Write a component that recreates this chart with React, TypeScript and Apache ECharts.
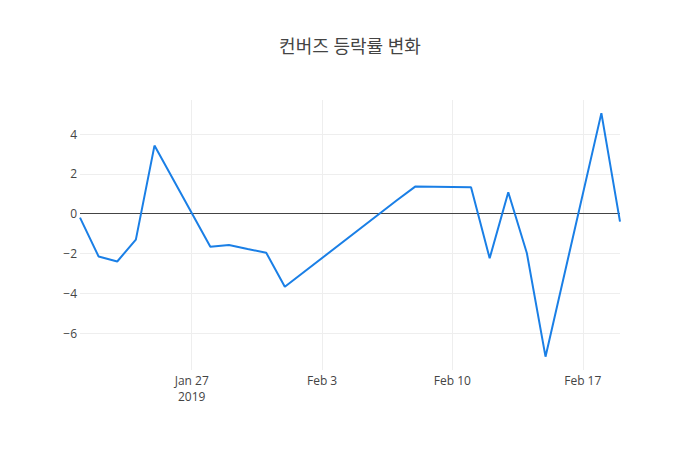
import React, { useEffect, useRef } from "react";
import * as echarts from "echarts";

const titleText = "컨버즈 등락률 변화";
const dates = [
  "2019-01-21", "2019-01-22", "2019-01-23", "2019-01-24", "2019-01-25",
  "2019-01-28", "2019-01-29", "2019-01-30", "2019-01-31", "2019-02-01",
  "2019-02-07", "2019-02-08", "2019-02-11", "2019-02-12", "2019-02-13",
  "2019-02-14", "2019-02-15", "2019-02-18", "2019-02-19",
];
const changes = [
  -0.2, -2.15, -2.4, -1.3, 3.42,
  -1.66, -1.57, -1.77, -1.96, -3.67,
  0.66, 1.36, 1.33, -2.24, 1.08,
  -1.99, -7.18, 5.05, -0.4,
];
const yTicks = [-6, -4, -2, 0, 2, 4];
const xTickDates = ["2019-01-27", "2019-02-03", "2019-02-10", "2019-02-17"];
const xTickLabels = ["Jan 27\n2019", "Feb 3", "Feb 10", "Feb 17"];
const xRange = ["2019-01-21", "2019-02-19"];
const yRange = [-7.85, 5.71];

const DAY = 86400000;
const toDay = (s: string) => {
  const [y, m, d] = s.split("-").map(Number);
  return Math.round(Date.UTC(y, m - 1, d) / DAY);
};

export default function App() {
  const ref = useRef<HTMLDivElement>(null);
  useEffect(() => {
    if (!ref.current) return;
    const chart = echarts.init(ref.current, null, { renderer: "svg" });
    const base = toDay(xRange[0]);
    const rel = (s: string) => toDay(s) - base;
    const xTickPos = xTickDates.map(rel);
    const font = "'Open Sans', 'Noto Sans CJK KR', sans-serif";
    chart.setOption({
      animation: false,
      title: {
        text: titleText,
        left: "center",
        top: 32,
        textStyle: { fontFamily: font, fontSize: 18, fontWeight: "normal", color: "#444" },
      },
      grid: { left: 80, right: 80, top: 100, bottom: 80 },
      xAxis: {
        type: "value",
        min: 0,
        max: rel(xRange[1]),
        axisLine: { show: false },
        axisTick: { show: false },
        splitLine: { show: false },
        axisLabel: {
          customValues: xTickPos,
          formatter: (v: number) => {
            const i = xTickPos.indexOf(v);
            return i >= 0 ? xTickLabels[i] : "";
          },
          color: "#444",
          fontFamily: font,
          fontSize: 12,
          margin: 2,
          lineHeight: 16,
          hideOverlap: false,
        },
      },
      yAxis: {
        type: "value",
        min: yRange[0],
        max: yRange[1],
        axisLine: { show: false },
        axisTick: { show: false },
        splitLine: { show: false },
        axisLabel: {
          customValues: yTicks,
          formatter: (v: number) => (v < 0 ? "\u2212" + Math.abs(v) : String(v)),
          color: "#444",
          fontFamily: font,
          fontSize: 12,
          margin: 3,
        },
      },
      series: [
        {
          type: "line",
          data: [],
          silent: true,
          z: 0,
          markLine: {
            silent: true,
            symbol: "none",
            z: 0,
            label: { show: false },
            emphasis: { disabled: true },
            lineStyle: { color: "#eee", width: 1, type: "solid" },
            data: [
              ...yTicks.filter((t) => t !== 0).map((t) => ({ yAxis: t })),
              ...xTickPos.map((t) => ({ xAxis: t })),
            ],
          },
        },
        {
          type: "line",
          data: [],
          silent: true,
          z: 1,
          markLine: {
            silent: true,
            symbol: "none",
            z: 1,
            label: { show: false },
            emphasis: { disabled: true },
            lineStyle: { color: "#444", width: 1, type: "solid" },
            data: [{ yAxis: 0 }],
          },
        },
        {
          type: "line",
          z: 10,
          data: dates.map((d, i) => [rel(d), changes[i]]),
          showSymbol: false,
          lineStyle: { color: "#1a7fe6", width: 2 },
          itemStyle: { color: "#1a7fe6" },
        },
      ],
    });
    return () => chart.dispose();
  }, []);
  return (
    <div
      ref={ref}
      style={{ position: "absolute", left: 0, top: 0, width: 700, height: 450, background: "#fff" }}
    />
  );
}
